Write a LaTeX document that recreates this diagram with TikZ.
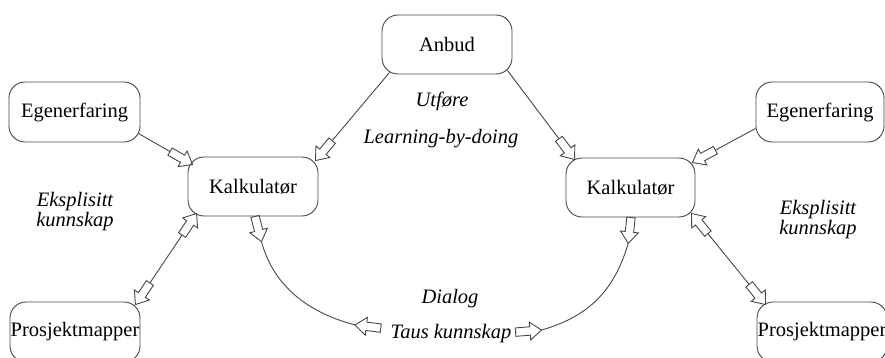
\documentclass[tikz,border=0pt]{standalone}
\usepackage{fontspec}
\setmainfont{Liberation Serif}

% Hollow block arrow: short shaft plus wide triangular head, outline only
\pgfdeclarearrow{
  name = Block,
  parameters = {\the\pgflinewidth},
  setup code = {
    \pgfarrowssettipend{0pt}
    \pgfarrowssetbackend{-26pt}
    \pgfarrowssetlineend{-26pt}
    \pgfarrowshullpoint{0pt}{0pt}
    \pgfarrowshullpoint{-11.5pt}{9pt}
    \pgfarrowshullpoint{-11.5pt}{-9pt}
    \pgfarrowshullpoint{-26pt}{4.2pt}
    \pgfarrowshullpoint{-26pt}{-4.2pt}
  },
  drawing code = {
    \pgfpathmoveto{\pgfqpoint{0pt}{0pt}}
    \pgfpathlineto{\pgfqpoint{-11.5pt}{9pt}}
    \pgfpathlineto{\pgfqpoint{-11.5pt}{4.2pt}}
    \pgfpathlineto{\pgfqpoint{-26pt}{4.2pt}}
    \pgfpathlineto{\pgfqpoint{-26pt}{-4.2pt}}
    \pgfpathlineto{\pgfqpoint{-11.5pt}{-4.2pt}}
    \pgfpathlineto{\pgfqpoint{-11.5pt}{-9pt}}
    \pgfpathclose
    \pgfusepathqstroke
  }
}

\colorlet{ink}{black!72}

\begin{document}
\begin{tikzpicture}[
  x=1pt, y=-1pt,
  every node/.style={font=\fontsize{20.5}{24}\selectfont},
  box/.style={draw=ink, line width=0.9pt, rounded corners=16pt,
    minimum width=130pt, minimum height=59pt, inner sep=0pt},
  lbl/.style={inner sep=0pt, font=\fontsize{20.5}{24}\selectfont\itshape},
  link/.style={draw=ink, line width=0.9pt},
]
\useasboundingbox (0,0) rectangle (885,358);

% boxes
\node[box] (anbud) at (447,44.5) {Anbud};
\node[box, minimum width=131pt, minimum height=60pt] (egenL) at (74.5,112) {Egenerfaring};
\node[box] (kalL) at (253,186.5) {Kalkulatør};
\node[box, minimum height=60pt] (prosL) at (75,332) {Prosjektmapper};
\node[box, minimum width=129pt] (kalR) at (630.5,187.5) {Kalkulatør};
\node[box, minimum width=128pt, minimum height=60pt] (egenR) at (820,112) {Egenerfaring};
\node[box, minimum height=60pt] (prosR) at (822,332) {Prosjektmapper};

% free labels
\node[lbl, anchor=base] (utfore) at (442,106.5) {Utføre};
\node[lbl, anchor=base] (lbd) at (441,144) {Learning-by-doing};
\node[lbl, align=center, font=\fontsize{20.5}{19.5}\selectfont\itshape] (eksL) at (75,211.5) {Eksplisitt\\kunnskap};
\node[lbl, align=center, font=\fontsize{20.5}{20.5}\selectfont\itshape] (eksR) at (818,219.5) {Eksplisitt\\kunnskap};
\node[lbl, anchor=base] (dialog) at (450,303) {Dialog};
\node[lbl, anchor=base] (taus) at (451,338) {Taus kunnskap};

% straight connectors
\draw[link, -Block] ([shift={(8,-2)}]anbud.south west) -- ([shift={(-3,4)}]kalL.north east);
\draw[link, -Block] ([shift={(-5,-4)}]anbud.south east) -- ([shift={(9,2)}]kalR.north west);
\draw[link, -Block] ([shift={(-2,-9)}]egenL.south east) -- ([shift={(5,8)}]kalL.north west);
\draw[link, Block-Block] ([shift={(-5,3)}]prosL.north east) -- ([shift={(9,-3)}]kalL.south west);
\draw[link, -Block] ([shift={(0,-14)}]egenR.south west) -- ([shift={(-3,5)}]kalR.north east);
\draw[link, Block-Block] ([shift={(9,3)}]prosR.north west) -- ([shift={(-4,-4)}]kalR.south east);

% curved dialog connectors between the calculators and the tacit-knowledge label
\coordinate (kLtip) at ([shift={(8.5,25.2)}]kalL.south);
\coordinate (kRtip) at ([shift={(-2.3,25.9)}]kalR.south);
\coordinate (tLtip) at ([shift={(-35.6,-8.2)}]taus.west);
\coordinate (tRtip) at ([shift={(30,-3)}]taus.east);

\draw[link, -Block] ([shift={(2,0)}]kalL.south) -- (kLtip);
\draw[link, -Block] ([shift={(0.5,0)}]kalR.south) -- (kRtip);
\draw[link, -Block] ([shift={(-10,-5)}]taus.west) -- (tLtip);
\draw[link, -Block] ([shift={(5,-1)}]taus.east) -- (tRtip);

\draw[link] (kLtip) .. controls (272,281) and (302,311) .. (tLtip);
\draw[link] (tRtip) .. controls (588,316.6) and (614,291.7) .. (kRtip);
\end{tikzpicture}
\end{document}
